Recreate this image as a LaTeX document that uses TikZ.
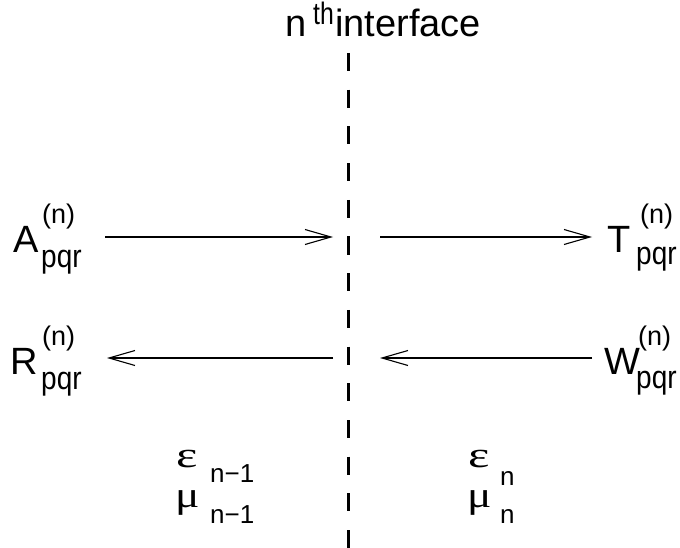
\documentclass[tikz,border=0pt]{standalone}
\usepackage{fontspec}
\usepackage{graphicx}
\setmainfont{Liberation Sans}
\newfontfamily\grkfont{Liberation Serif}
\usetikzlibrary{arrows.meta}
\begin{document}
\begin{tikzpicture}[x=1pt,y=-1pt,
  lbl/.style={inner sep=0pt, anchor=base west},
  big/.style={lbl, font=\fontsize{38}{38}\selectfont},
  subs/.style={lbl, font=\fontsize{28}{28}\selectfont},
  sups/.style={lbl, font=\fontsize{27}{27}\selectfont},
  greek/.style={lbl, font=\fontsize{35}{35}\selectfont\grkfont},
  gsub/.style={lbl, font=\fontsize{26}{26}\selectfont},
  ray/.style={line width=1.2pt, -{Straight Barb[length=26pt,width=15pt,line width=1.1pt]}},
  iface/.style={line width=3pt, dash pattern=on 18pt off 18.7pt}
]
\path[use as bounding box] (0,0) rectangle (680,548);

% interface
\coordinate (itop) at (348,53);
\coordinate (ibot) at (348,548);
\draw[iface] (itop) -- (ibot);
\node[big] (tn) at (285,37) {n};
\node[lbl, font=\fontsize{31}{31}\selectfont] (tth) at (313,25) {\scalebox{0.8}[1]{th}};
\node[big] (tif) at (335,37) {interface};

% labels left
\node[big] (A) at (13,252) {A};
\node[subs] (Asub) at (41,267) {\scalebox{1}[1.15]{pqr}};
\node[sups] (Asup) at (42,224) {(n)};
\node[big] (R) at (10,374) {R};
\node[subs] (Rsub) at (41,389) {\scalebox{1}[1.15]{pqr}};
\node[sups] (Rsup) at (42,345) {(n)};

% labels right
\node[big] (T) at (607,252) {T};
\node[subs] (Tsub) at (636,265) {\scalebox{1}[1.15]{pqr}};
\node[sups] (Tsup) at (640,224) {(n)};
\node[big] (W) at (604,374) {W};
\node[subs] (Wsub) at (636,388) {\scalebox{1}[1.15]{pqr}};
\node[sups] (Wsup) at (638,345) {(n)};

% arrows
\coordinate (a1s) at (105,237);
\coordinate (a1e) at (333,237);
\coordinate (a2s) at (380,237);
\coordinate (a2e) at (592,237);
\coordinate (b1s) at (333,358);
\coordinate (b1e) at (107,358);
\coordinate (b2s) at (592,358);
\coordinate (b2e) at (380,358);
\draw[ray] (a1s) -- (a1e);
\draw[ray] (a2s) -- (a2e);
\draw[ray] (b1s) -- (b1e);
\draw[ray] (b2s) -- (b2e);

% media
\node[greek] (eps1) at (176,467) {\scalebox{1.45}[1.05]{ε}};
\node[gsub] (eps1s) at (210,482) {n−1};
\node[greek] (mu1) at (175,507) {\scalebox{1.3}[1.05]{μ}};
\node[gsub] (mu1s) at (210,523) {n−1};
\node[greek] (eps2) at (468,467) {\scalebox{1.45}[1.05]{ε}};
\node[gsub] (eps2s) at (500,485) {n};
\node[greek] (mu2) at (467,507) {\scalebox{1.3}[1.05]{μ}};
\node[gsub] (mu2s) at (500,523) {n};
\end{tikzpicture}
\end{document}
